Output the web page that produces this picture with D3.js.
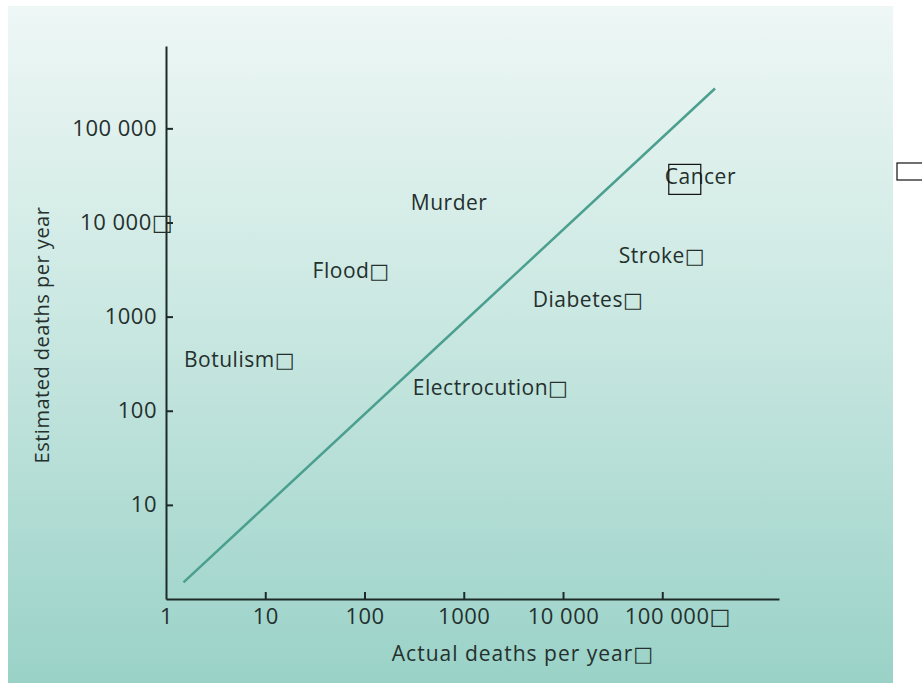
<!DOCTYPE html>
<html lang="en">
<head>
    <meta charset="UTF-8">
    <title>Estimated vs actual deaths per year</title>
    <script src="https://d3js.org/d3.v7.min.js"></script>
    <style>
        body { margin: 0; background: #fff; }
        svg text { font-family: "Open Sans", "DejaVu Sans", sans-serif; fill: #24302d; }
    </style>
</head>
<body>
    <div id="chart"></div>

    <script>
        // Label positions (actual, estimated)
        const causes = ["Murder", "Flood\u25A1", "Botulism\u25A1", "Electrocution\u25A1", "Diabetes\u25A1", "Stroke\u25A1", "Cancer"];
        const actual = [293, 30, 1.52, 307, 4960, 36500, 106000];
        const estimated = [13500, 2560, 290, 146, 1260, 3690, 25400];

        // reference line end points (actual, estimated)
        const lineActual = [1.5, 340000];
        const lineEstimated = [1.5, 265000];

        const xTicks = [1, 10, 100, 1000, 10000, 100000];
        const xTickLabels = ["1", "10", "100", "1000", "10 000", "100 000\u25A1"];
        const yTicks = [10, 100, 1000, 10000, 100000];
        const yTickLabels = ["10", "100", "1000", "10 000\u25A1", "100 000"];

        const W = 922, H = 688;

        const svg = d3.select("#chart")
            .append("svg")
            .attr("width", W)
            .attr("height", H);

        // panel background
        const grad = svg.append("defs").append("linearGradient")
            .attr("id", "bg").attr("x1", 0).attr("y1", 0).attr("x2", 0).attr("y2", 1);
        grad.append("stop").attr("offset", "0%").attr("stop-color", "#eef7f5");
        grad.append("stop").attr("offset", "45%").attr("stop-color", "#cbe8e2");
        grad.append("stop").attr("offset", "100%").attr("stop-color", "#9ad2c8");

        svg.append("rect")
            .attr("x", 8).attr("y", 6)
            .attr("width", 885).attr("height", 677)
            .attr("fill", "url(#bg)");

        const x = d3.scaleLog().domain([1, 1.5e6]).range([166, 779]);
        const y = d3.scaleLog().domain([1, 7.5e5]).range([599, 46]);

        // axes
        const xAxis = svg.append("g")
            .attr("transform", `translate(0,${y(1)})`)
            .call(d3.axisBottom(x)
                .tickValues(xTicks)
                .tickFormat((d, i) => xTickLabels[i])
                .tickSizeInner(-7)
                .tickSizeOuter(0)
                .tickPadding(9));

        const yAxis = svg.append("g")
            .attr("transform", `translate(${x(1)},0)`)
            .call(d3.axisLeft(y)
                .tickValues(yTicks)
                .tickFormat((d, i) => yTickLabels[i])
                .tickSizeInner(-7)
                .tickSizeOuter(0)
                .tickPadding(9));

        [xAxis, yAxis].forEach(g => {
            g.select(".domain").attr("stroke", "#1d2a27").attr("stroke-width", 2);
            g.selectAll(".tick line").attr("stroke", "#1d2a27").attr("stroke-width", 2);
            g.selectAll(".tick text")
                .style("font-size", "22px")
                .style("letter-spacing", "0.5px")
                .style("fill", "#24302d");
        });
        // the "1" tick has no mark on the corner
        xAxis.selectAll(".tick line").filter(d => d === 1).remove();

        // labels with the stray box: keep the digits aligned with their tick
        xAxis.selectAll(".tick text").filter(d => d === 100000)
            .attr("text-anchor", "start").attr("x", -38);
        yAxis.selectAll(".tick text").filter(d => d === 10000)
            .attr("x", 7);

        // estimated = actual line
        svg.append("line")
            .attr("x1", x(lineActual[0])).attr("y1", y(lineEstimated[0]))
            .attr("x2", x(lineActual[1])).attr("y2", y(lineEstimated[1]))
            .attr("stroke", "#4b9f8f")
            .attr("stroke-width", 2.5);

        // cause labels
        svg.selectAll(".cause")
            .data(causes)
            .enter()
            .append("text")
            .attr("class", "cause")
            .attr("x", (d, i) => x(actual[i]))
            .attr("y", (d, i) => y(estimated[i]))
            .style("font-size", "21px")
            .style("letter-spacing", "0.5px")
            .text(d => d);

        // outline box sitting over the "Ca" of Cancer
        const ci = causes.indexOf("Cancer");
        svg.append("rect")
            .attr("x", x(actual[ci]) + 4)
            .attr("y", y(estimated[ci]) - 20)
            .attr("width", 32).attr("height", 30)
            .attr("fill", "none")
            .attr("stroke", "#111").attr("stroke-width", 1.2);

        // small box at the right edge
        svg.append("rect")
            .attr("x", 897).attr("y", 163)
            .attr("width", 30).attr("height", 17)
            .attr("fill", "#fff")
            .attr("stroke", "#111").attr("stroke-width", 1.2);

        // axis titles
        svg.append("text")
            .attr("x", 523).attr("y", 661)
            .attr("text-anchor", "middle")
            .style("font-size", "21px")
            .style("letter-spacing", "1px")
            .text("Actual deaths per year\u25A1");

        svg.append("text")
            .attr("transform", "translate(49,335) rotate(-90)")
            .attr("text-anchor", "middle")
            .style("font-size", "20px")
            .style("letter-spacing", "0.5px")
            .text("Estimated deaths per year");
    </script>
</body>
</html>
